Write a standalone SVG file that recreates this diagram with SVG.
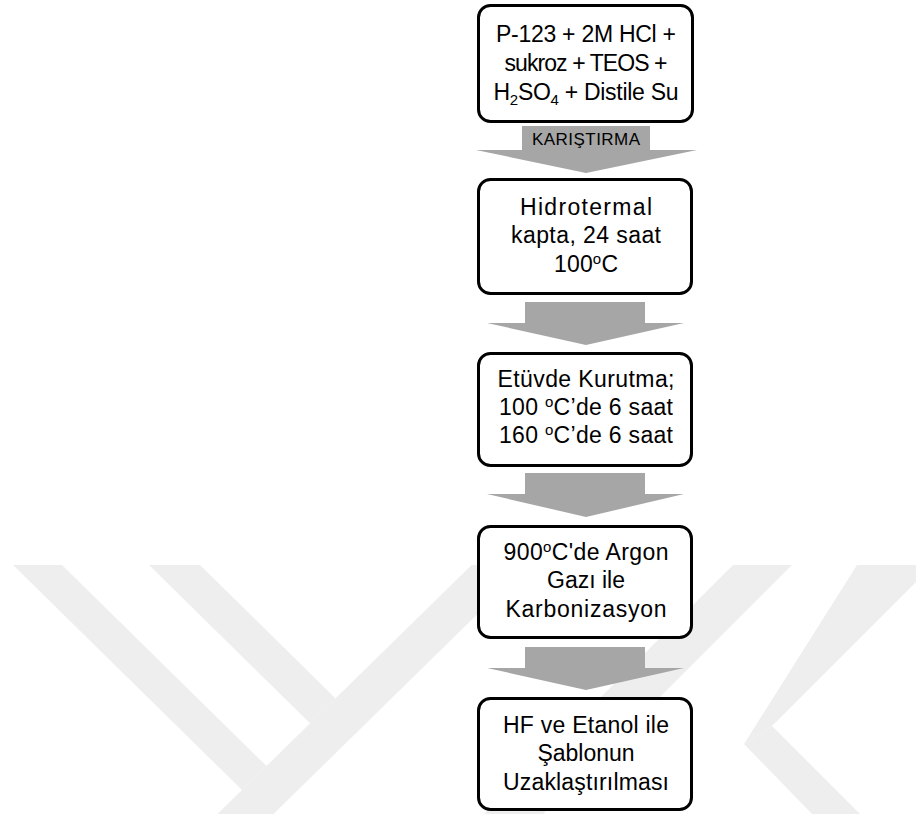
<svg xmlns="http://www.w3.org/2000/svg" width="916" height="814" viewBox="0 0 916 814">
<style>
.wm{fill:#eeeeee}
.box{fill:#ffffff;stroke:#000000;stroke-width:3}
.arr{fill:#a6a6a6}
.t{font-family:"Liberation Sans",Arial,sans-serif;font-size:23px;fill:#000000;text-anchor:middle}
.lbl{font-family:"Liberation Sans",Arial,sans-serif;font-size:17px;fill:#000000;text-anchor:middle}
.sup{font-size:15px}
</style>
<rect width="916" height="814" fill="#ffffff"/>
<g id="watermark">
<polygon class="wm" points="13,565 62,565 266.5,766 242,790"/>
<polygon class="wm" points="149,565 200,565 335.6,698.4 310,723.3"/>
<polygon class="wm" points="217.5,814 273.5,814 527.6,565 471.6,565"/>
<polygon class="wm" points="733,565 792,565 543,814 484,814"/>
<polygon class="wm" points="857,565 916,565 916,582 772,726 744,744"/>
<polygon class="wm" points="744,744 772,726 860,814 812,814"/>
</g>
<g id="connectors">
<polygon id="arrow1" class="arr" points="522,126 650,126 650,150 697,150 586,173 476,150 522,150"/>
<polygon id="arrow2" class="arr" points="525,302 645,302 645,323 684,323 586,345 487,323 525,323"/>
<polygon id="arrow3" class="arr" points="525,473 645,473 645,494 684,494 586,517 487,494 525,494"/>
<polygon id="arrow4" class="arr" points="525,647 645,647 645,668 684,668 586,690 487,668 525,668"/>
<text class="lbl" x="586" y="145" textLength="108" lengthAdjust="spacing">KARIŞTIRMA</text>
</g>
<g id="node1">
<rect class="box" x="478.5" y="5.5" width="214" height="116" rx="12"/>
<text class="t" x="586" y="42" textLength="180" lengthAdjust="spacing">P-123 + 2M HCl +</text>
<text class="t" x="586" y="71" textLength="163" lengthAdjust="spacing">sukroz + TEOS +</text>
<text class="t" x="586" y="100" textLength="185" lengthAdjust="spacing">H<tspan class="sup" dy="5">2</tspan><tspan dy="-5">SO</tspan><tspan class="sup" dy="5">4</tspan><tspan dy="-5"> + Distile Su</tspan></text>
</g>
<g id="node2">
<rect class="box" x="478.5" y="179.5" width="213" height="114" rx="12"/>
<text class="t" x="586" y="215" textLength="132" lengthAdjust="spacing">Hidrotermal</text>
<text class="t" x="586" y="243" textLength="150" lengthAdjust="spacing">kapta, 24 saat</text>
<text class="t" x="586" y="272" textLength="64" lengthAdjust="spacing">100<tspan class="sup" dy="-8">o</tspan><tspan dy="8">C</tspan></text>
</g>
<g id="node3">
<rect class="box" x="478.5" y="353.5" width="213" height="112" rx="12"/>
<text class="t" x="586" y="387" textLength="177" lengthAdjust="spacing">Etüvde Kurutma;</text>
<text class="t" x="586" y="415" textLength="174" lengthAdjust="spacing">100 <tspan class="sup" dy="-8">o</tspan><tspan dy="8">C’de 6 saat</tspan></text>
<text class="t" x="586" y="443" textLength="174" lengthAdjust="spacing">160 <tspan class="sup" dy="-8">o</tspan><tspan dy="8">C’de 6 saat</tspan></text>
</g>
<g id="node4">
<rect class="box" x="478.5" y="526.5" width="213" height="111" rx="12"/>
<text class="t" x="586" y="560" textLength="165" lengthAdjust="spacing">900<tspan class="sup" dy="-8">o</tspan><tspan dy="8">C'de Argon</tspan></text>
<text class="t" x="586" y="588" textLength="78" lengthAdjust="spacing">Gazı ile</text>
<text class="t" x="586" y="617" textLength="161" lengthAdjust="spacing">Karbonizasyon</text>
</g>
<g id="node5">
<rect class="box" x="478.5" y="698.5" width="213" height="111" rx="12"/>
<text class="t" x="586" y="733" textLength="166" lengthAdjust="spacing">HF ve Etanol ile</text>
<text class="t" x="586" y="761">Şablonun</text>
<text class="t" x="586" y="790" textLength="166" lengthAdjust="spacing">Uzaklaştırılması</text>
</g>
</svg>
